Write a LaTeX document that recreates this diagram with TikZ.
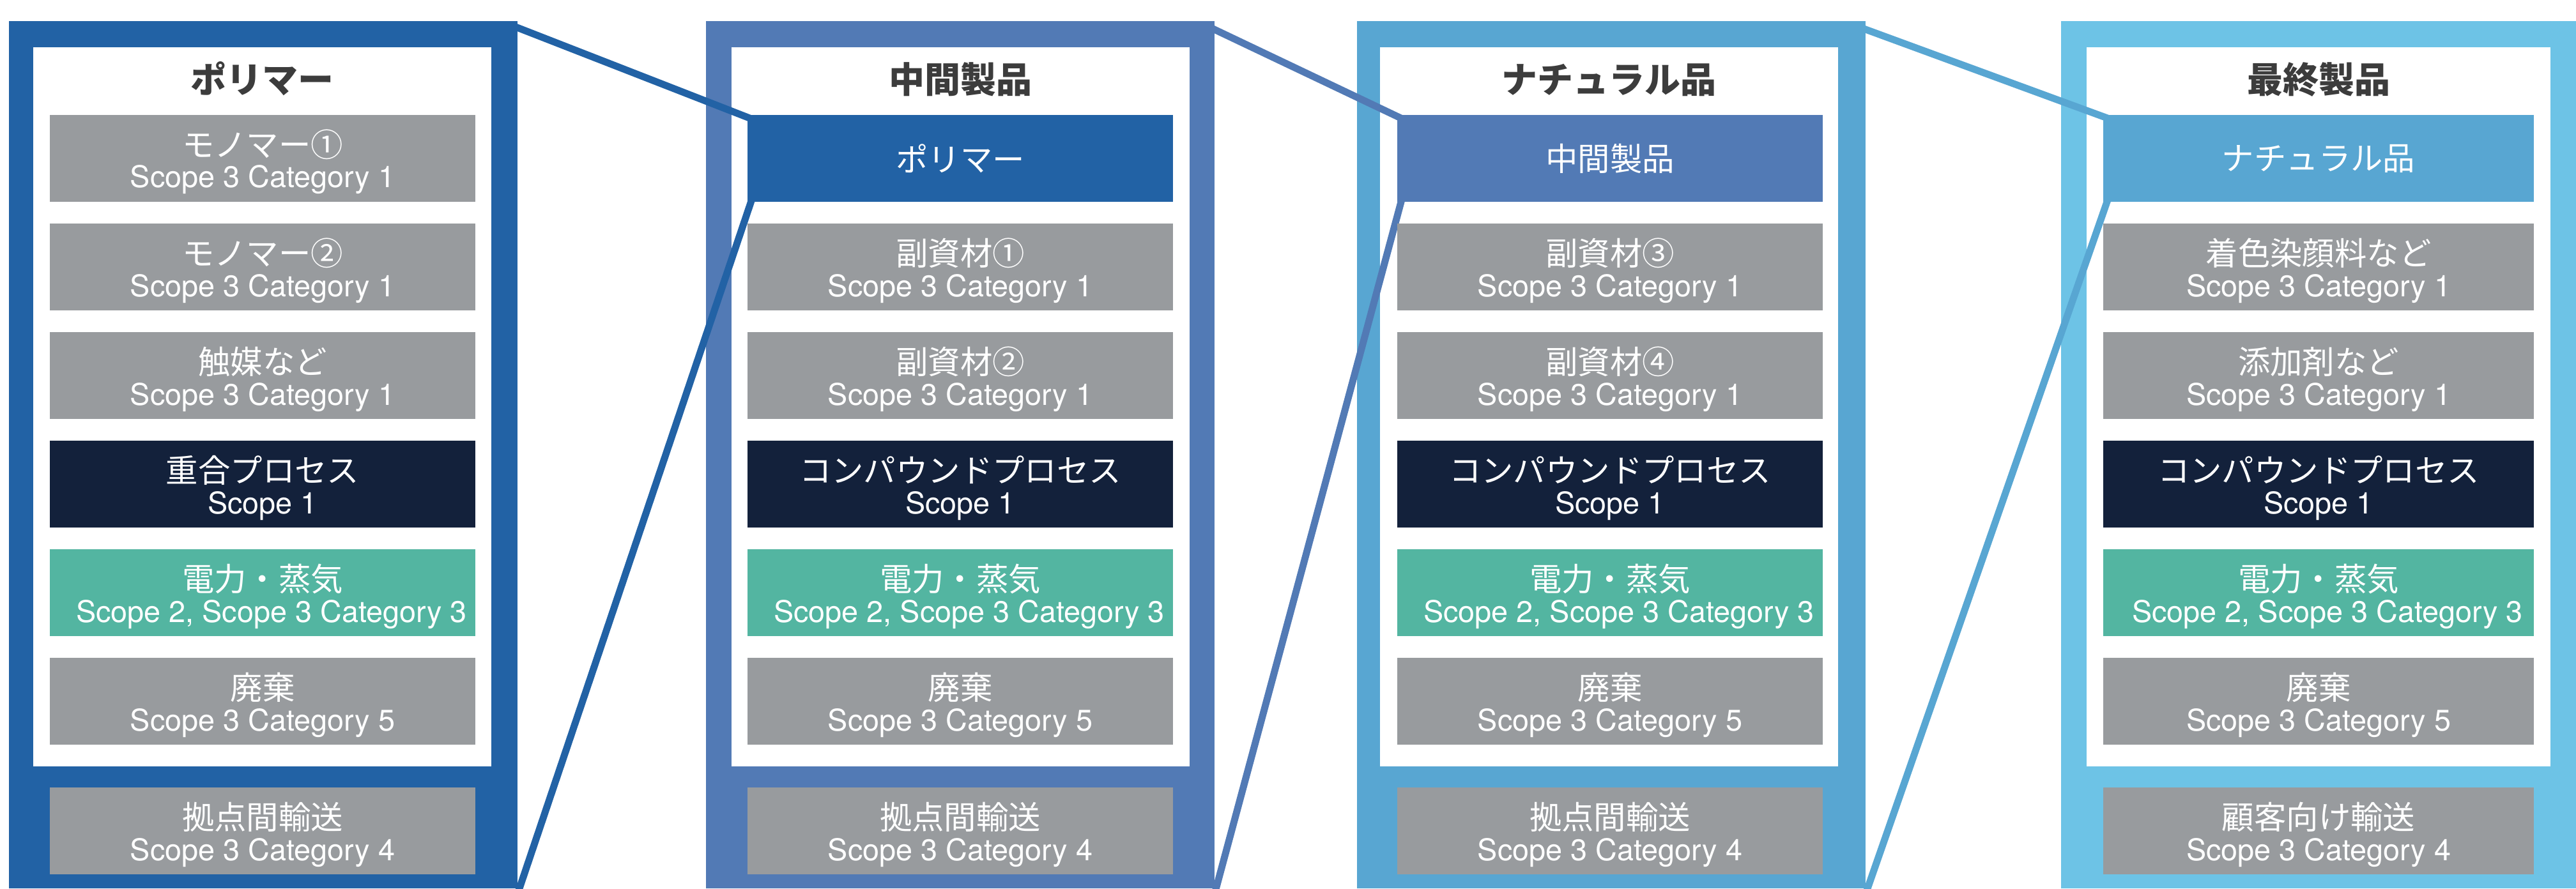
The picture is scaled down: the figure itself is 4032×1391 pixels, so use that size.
\documentclass[tikz,border=0pt]{standalone}
\usepackage{fontspec}
\setmainfont{TeX Gyre Heros}
\newfontfamily\jp{Noto Sans CJK JP}
\definecolor{fA}{HTML}{2262A5}
\definecolor{fB}{HTML}{527AB5}
\definecolor{fC}{HTML}{58A6D2}
\definecolor{fD}{HTML}{6DC3E6}
\definecolor{gr}{HTML}{989B9E}
\definecolor{nv}{HTML}{13213B}
\definecolor{tl}{HTML}{53B5A1}
\definecolor{tt}{HTML}{3C3C3C}
\pgfdeclarelayer{bg}
\pgfdeclarelayer{mid}
\pgfsetlayers{bg,mid,main}
\tikzset{
 pxsize/.style 2 args={minimum width=#1*0.25pt, minimum height=#2*0.25pt},
 blk/.style={inner sep=0pt, outer sep=0pt, draw=none, anchor=north west},
 jpt/.style={inner sep=0pt, text=white, font=\jp\fontsize{12.6}{12.6}\selectfont},
 ent/.style={inner sep=0pt, text=white, font=\fontsize{11.7}{11.7}\selectfont},
 ttl/.style={inner sep=0pt, text=tt, font=\jp\bfseries\fontsize{14}{14}\selectfont},
 link/.style={line width=2.75pt},
}
% name, x, y, width, colour, japanese, latin
\newcommand\dbox[7]{%
  \node[blk, pxsize={#4}{136}, fill=#5] (#1) at (#2,#3) {};
  \node[jpt, anchor=base] (#1j) at ([shift={(0,65)}]#1.north) {#6};
  \node[ent, anchor=base] (#1e) at ([shift={(0,114)}]#1.north) {#7};
}
% name, x, y, width, colour, japanese
\newcommand\onebox[6]{%
  \node[blk, pxsize={#4}{136}, fill=#5] (#1) at (#2,#3) {};
  \node[jpt, anchor=center] (#1j) at (#1.center) {#6};
}
\begin{document}
\begin{tikzpicture}[x=0.25pt, y=-0.25pt]
\useasboundingbox (0,0) rectangle (4032,1391);
\begin{pgfonlayer}{bg}
  \node[blk, pxsize={796}{1358}, fill=fA] (f1) at (14,33) {};
  \node[blk, pxsize={796}{1358}, fill=fB] (f2) at (1105,33) {};
  \node[blk, pxsize={796}{1358}, fill=fC] (f3) at (2124,33) {};
  \node[blk, pxsize={806}{1358}, fill=fD] (f4) at (3226,33) {};
  \node[blk, pxsize={717}{1126}, fill=white] (w1) at (52,74) {};
  \node[blk, pxsize={717}{1126}, fill=white] (w2) at (1145,74) {};
  \node[blk, pxsize={717}{1126}, fill=white] (w3) at (2160,74) {};
  \node[blk, pxsize={726}{1126}, fill=white] (w4) at (3266,74) {};
\end{pgfonlayer}

\node[ttl, anchor=base] (t1) at ([shift={(0,72)}]w1.north) {ポリマー};
\node[ttl, anchor=base] (t2) at ([shift={(0,72)}]w2.north) {中間製品};
\node[ttl, anchor=base] (t3) at ([shift={(0,72)}]w3.north) {ナチュラル品};
\node[ttl, anchor=base] (t4) at ([shift={(0,72)}]w4.north) {最終製品};

% column 1
\dbox{a1}{78}{180}{666}{gr}{モノマー①}{Scope 3 Category 1}
\dbox{a2}{78}{350}{666}{gr}{モノマー②}{Scope 3 Category 1}
\dbox{a3}{78}{520}{666}{gr}{触媒など}{Scope 3 Category 1}
\dbox{a4}{78}{690}{666}{nv}{重合プロセス}{Scope 1}
\dbox{a5}{78}{860}{666}{tl}{電力・蒸気}{\hspace{7pt}Scope 2, Scope 3 Category 3}
\dbox{a6}{78}{1030}{666}{gr}{廃棄}{Scope 3 Category 5}
\dbox{a7}{78}{1233}{666}{gr}{拠点間輸送}{Scope 3 Category 4}

% column 2
\onebox{p2}{1170}{180}{666}{fA}{ポリマー}
\dbox{b2}{1170}{350}{666}{gr}{副資材①}{Scope 3 Category 1}
\dbox{b3}{1170}{520}{666}{gr}{副資材②}{Scope 3 Category 1}
\dbox{b4}{1170}{690}{666}{nv}{コンパウンドプロセス}{Scope 1}
\dbox{b5}{1170}{860}{666}{tl}{電力・蒸気}{\hspace{7pt}Scope 2, Scope 3 Category 3}
\dbox{b6}{1170}{1030}{666}{gr}{廃棄}{Scope 3 Category 5}
\dbox{b7}{1170}{1233}{666}{gr}{拠点間輸送}{Scope 3 Category 4}

% column 3
\onebox{p3}{2187}{180}{666}{fB}{中間製品}
\dbox{c2}{2187}{350}{666}{gr}{副資材③}{Scope 3 Category 1}
\dbox{c3}{2187}{520}{666}{gr}{副資材④}{Scope 3 Category 1}
\dbox{c4}{2187}{690}{666}{nv}{コンパウンドプロセス}{Scope 1}
\dbox{c5}{2187}{860}{666}{tl}{電力・蒸気}{\hspace{7pt}Scope 2, Scope 3 Category 3}
\dbox{c6}{2187}{1030}{666}{gr}{廃棄}{Scope 3 Category 5}
\dbox{c7}{2187}{1233}{666}{gr}{拠点間輸送}{Scope 3 Category 4}

% column 4
\onebox{p4}{3292}{180}{674}{fC}{ナチュラル品}
\dbox{d2}{3292}{350}{674}{gr}{着色染顔料など}{Scope 3 Category 1}
\dbox{d3}{3292}{520}{674}{gr}{添加剤など}{Scope 3 Category 1}
\dbox{d4}{3292}{690}{674}{nv}{コンパウンドプロセス}{Scope 1}
\dbox{d5}{3292}{860}{674}{tl}{電力・蒸気}{\hspace{7pt}Scope 2, Scope 3 Category 3}
\dbox{d6}{3292}{1030}{674}{gr}{廃棄}{Scope 3 Category 5}
\dbox{d7}{3292}{1233}{674}{gr}{顧客向け輸送}{Scope 3 Category 4}

\begin{pgfonlayer}{mid}
  \draw[link, draw=fA] ([shift={(-11,6)}]f1.north east) -- ([shift={(10,7.6)}]p2.north west);
  \draw[link, draw=fA] ([shift={(7.5,-6)}]p2.south west) -- ([shift={(0,9)}]f1.south east);
  \draw[link, draw=fB] ([shift={(-11,8)}]f2.north east) -- ([shift={(12,8)}]p3.north west);
  \draw[link, draw=fB] ([shift={(7.6,-6)}]p3.south west) -- ([shift={(0,9)}]f2.south east);
  \draw[link, draw=fC] ([shift={(-11,9)}]f3.north east) -- ([shift={(12,7)}]p4.north west);
  \draw[link, draw=fC] ([shift={(8,-6)}]p4.south west) -- ([shift={(0,9)}]f3.south east);
\end{pgfonlayer}
\end{tikzpicture}
\end{document}
